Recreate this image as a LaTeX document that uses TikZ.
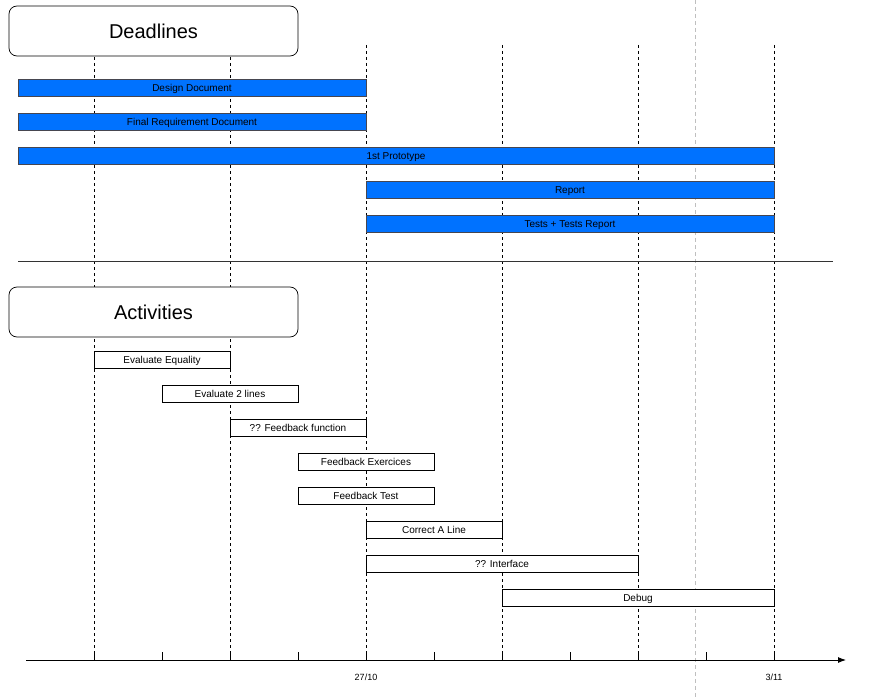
\documentclass[tikz,border=0pt]{standalone}
\usepackage{fontspec}
\setmainfont{Liberation Sans}
\usetikzlibrary{arrows.meta}
\definecolor{barblue}{RGB}{0,114,255}
\definecolor{bargray}{RGB}{70,70,80}
\tikzset{
  title/.style={draw, rounded corners=8pt, fill=white, minimum width=289pt, minimum height=50pt, font=\fontsize{20}{24}\selectfont, line width=0.7pt},
  deadline/.style={draw=bargray, fill=barblue, minimum height=17pt, inner sep=0pt, text height=9pt, text depth=1pt, font=\fontsize{10}{12}\selectfont, line width=0.8pt},
  activity/.style={draw, fill=white, minimum height=17pt, inner sep=0pt, text height=9pt, text depth=1pt, font=\fontsize{10}{12}\selectfont, line width=0.7pt},
  grid/.style={dash pattern=on 3pt off 3pt, line width=0.7pt},
  datelabel/.style={font=\fontsize{9}{11}\selectfont}
}
\begin{document}
\begin{tikzpicture}[x=1pt, y=-1pt]
      \useasboundingbox (0,0) rectangle (875,698);
      % time grid
      \draw[gray!50, dash pattern=on 4pt off 3pt, line width=0.6pt] (695,0) -- (695,698);
      \draw[grid] (94,45) -- (94,652);
      \draw[grid] (230,45) -- (230,652);
      \draw[grid] (366,45) -- (366,652);
      \draw[grid] (502,45) -- (502,652);
      \draw[grid] (638,45) -- (638,652);
      \draw[grid] (774,45) -- (774,652);
      % headers
      \node[title] (deadlines) at (153.5,31) {Deadlines};
      \node[title] (activities) at (153.5,312) {Activities};
      \coordinate (sepleft) at (18,261);
      \coordinate (sepright) at (833,261);
      \draw[line width=0.8pt, black!80] (sepleft) -- (sepright);
      % deadlines
      \node[deadline, minimum width=348pt] (design) at (192,87.5) {Design Document};
      \node[deadline, minimum width=348pt] (finalreq) at (192,121.5) {Final Requirement Document};
      \node[deadline, minimum width=756pt] (proto) at (396,155.5) {1st Prototype};
      \node[deadline, minimum width=408pt] (report) at (570,189.5) {Report};
      \node[deadline, minimum width=408pt] (tests) at (570,223.5) {Tests + Tests Report};
      % activities
      \node[activity, minimum width=136pt] (equality) at (162,359.5) {Evaluate Equality};
      \node[activity, minimum width=136pt] (twolines) at (230,393.5) {Evaluate 2 lines};
      \node[activity, minimum width=136pt] (feedfun) at (298,427.5) {?? Feedback function};
      \node[activity, minimum width=136pt] (feedex) at (366,461.5) {Feedback Exercices};
      \node[activity, minimum width=136pt] (feedtest) at (366,495.5) {Feedback Test};
      \node[activity, minimum width=136pt] (correct) at (434,529.5) {Correct A Line};
      \node[activity, minimum width=272pt] (interface) at (502,563.5) {?? Interface};
      \node[activity, minimum width=272pt] (debug) at (638,597.5) {Debug};
      % time axis
      \coordinate (start) at (26,660);
      \coordinate (end) at (846,660);
      \draw[-{Latex[length=8pt,width=6pt]}, line width=0.9pt] (start) -- (end);
      \begin{scope}[line width=0.7pt]
        \draw (94,652) -- (94,660);
        \draw (162,652) -- (162,660);
        \draw (230,652) -- (230,660);
        \draw (298,652) -- (298,660);
        \draw (366,652) -- (366,660);
        \draw (434,652) -- (434,660);
        \draw (502,652) -- (502,660);
        \draw (570,652) -- (570,660);
        \draw (638,652) -- (638,660);
        \draw (706,652) -- (706,660);
        \draw (774,652) -- (774,660);
      \end{scope}
      \node[datelabel] (oct) at (366,677) {27/10};
      \node[datelabel] (nov) at (774,677) {3/11};
    \end{tikzpicture}
\end{document}
